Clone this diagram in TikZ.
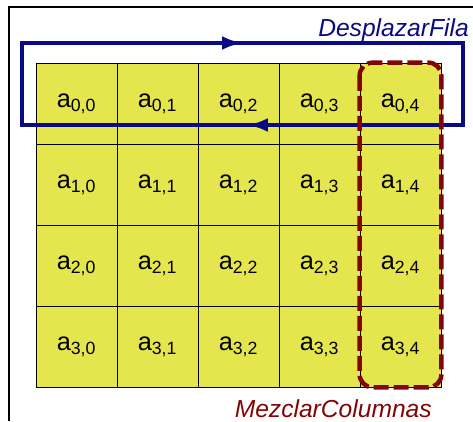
\documentclass[tikz,border=0pt]{standalone}
\usepackage{fontspec}
\setmainfont{Liberation Sans}
\usepackage{xcolor}
\usetikzlibrary{arrows.meta,positioning}
\definecolor{rowblue}{RGB}{10,10,130}
\definecolor{colred}{RGB}{130,5,5}
\definecolor{cellyellow}{RGB}{229,229,77}
\newcommand{\celltxt}[2]{\fontsize{18}{20}\selectfont a\textsubscript{#1,#2}}

\begin{document}
\begin{tikzpicture}[x=0.025cm, y=-0.025cm,
                    frame/.style={line width=1.2pt, black},
                    cell/.style={draw, line width=0.6pt, fill=cellyellow, minimum size=2.025cm, inner sep=0pt},
                    rowloop/.style={line width=0.1cm, rowblue},
                    colbox/.style={line width=0.11cm, colred, dash pattern=on 0.375cm off 0.125cm, rounded corners=0.33cm},
                    tag/.style={font=\fontsize{17.5}{20}\selectfont\itshape, anchor=east, inner sep=0pt},
                   ]

\useasboundingbox (0,0) rectangle (473,421);

% outer frame
\draw[frame] (9,421) -- (9,7) -- (480,7);

% state matrix
\foreach \r in {0,...,3}{
  \foreach \c in {0,...,4}{
    \node[cell] (a\r\c) at ({76.5+81*\c},{103.5+81*\r}) {\celltxt{\r}{\c}};
  }
}

% row shift loop
\coordinate (lnw) at (22,43);
\coordinate (lne) at (463,43);
\coordinate (lse) at (463,125);
\coordinate (lsw) at (22,125);
\coordinate (ltop) at (243,43);
\coordinate (lbot) at (247,125);

\draw[rowloop] (lnw) -- (lne) -- (lse) -- (lsw) -- cycle;
\draw[rowloop, -{Latex[length=0.52cm,width=0.34cm]}] (lnw) -- (ltop);
\draw[rowloop, -{Latex[length=0.52cm,width=0.34cm]}] (lse) -- (lbot);

% column mix
\draw[colbox] (a04.north west) rectangle (a34.south east);

\node[tag, rowblue] (shift) at (469,30) {DesplazarFila};
\node[tag, colred] (mix) at (432,409) {MezclarColumnas};

\end{tikzpicture}
\end{document}
